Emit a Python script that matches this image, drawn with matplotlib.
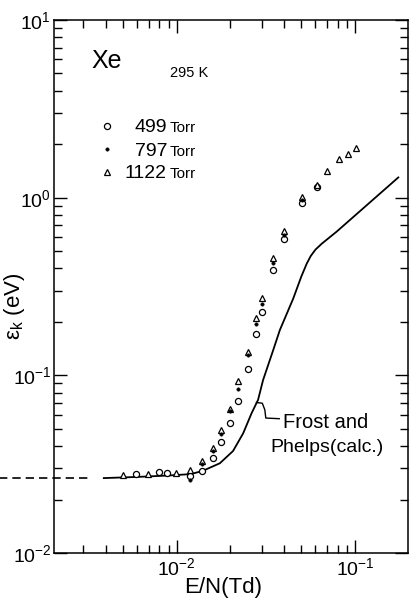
import matplotlib
matplotlib.use("Agg")
import matplotlib.pyplot as plt
from matplotlib import font_manager
from matplotlib.ticker import LogLocator, NullFormatter

names = {f.name for f in font_manager.fontManager.ttflist}
FAM = "Liberation Sans" if "Liberation Sans" in names else "DejaVu Sans"
plt.rcParams["font.family"] = [FAM, "DejaVu Sans"]
plt.rcParams["mathtext.fontset"] = "custom"
plt.rcParams["mathtext.rm"] = FAM
plt.rcParams["mathtext.it"] = FAM + ":italic"
plt.rcParams["mathtext.bf"] = FAM + ":bold"

# ---------------- data ----------------
# 499 Torr (open circles)
x499 = [0.00594, 0.0080, 0.00883, 0.0118, 0.0139, 0.0160, 0.0178, 0.0199, 0.0221,
        0.0251, 0.0278, 0.0299, 0.0348, 0.0399, 0.0504, 0.0610]
y499 = [0.0279, 0.0284, 0.0282, 0.0273, 0.0288, 0.0342, 0.0419, 0.0542, 0.0720,
        0.109, 0.171, 0.226, 0.390, 0.585, 0.930, 1.15]
# 797 Torr (dots)
x797 = [0.0118, 0.0139, 0.0160, 0.0178, 0.0199, 0.0221, 0.0251, 0.0278, 0.0299,
        0.0348, 0.0399, 0.0504]
y797 = [0.0259, 0.0317, 0.0375, 0.0470, 0.0626, 0.0834, 0.130, 0.194, 0.252,
        0.430, 0.620, 0.970]
# 1122 Torr (open triangles)
x1122 = [0.00499, 0.0069, 0.00987, 0.0118, 0.0139, 0.0160, 0.0178, 0.0199, 0.0221,
         0.0251, 0.0278, 0.0299, 0.0348, 0.0399, 0.0504, 0.0610, 0.0698, 0.0813,
         0.0910, 0.1014]
y1122 = [0.0275, 0.0278, 0.0282, 0.0292, 0.0331, 0.0390, 0.0490, 0.0650, 0.0930,
         0.135, 0.211, 0.272, 0.460, 0.650, 1.01, 1.18, 1.41, 1.64,
         1.76, 1.90]
# Frost and Phelps calculation
xcalc = [0.0039, 0.006, 0.009, 0.012, 0.014, 0.01746, 0.0207, 0.0236, 0.0263,
         0.0286, 0.0305, 0.0348, 0.0379, 0.045, 0.050, 0.0536, 0.0565, 0.060,
         0.0650, 0.0789, 0.111, 0.175]
ycalc = [0.0264, 0.0268, 0.0273, 0.0278, 0.0290, 0.0320, 0.0375, 0.0472, 0.0612,
         0.0728, 0.094, 0.139, 0.180, 0.270, 0.360, 0.425, 0.470, 0.510,
         0.550, 0.644, 0.870, 1.30]
# thermal energy (dashed)
xdash = [0.0010, 0.00324]
ydash = [0.0265, 0.0265]

legend_labels = ["499", "797", "1122"]
legend_unit = "Torr"

# ---------------- figure ----------------
fig = plt.figure(figsize=(4.09, 6.03), dpi=100)
ax = fig.add_axes([54/409, 1-553/603, (407.5-54)/409, (553-20)/603])
ax.set_xscale("log")
ax.set_yscale("log")
ax.set_xlim(0.00205, 0.197)
ax.set_ylim(0.01, 10)

lw = 1.3
ax.plot(xcalc, ycalc, color="black", lw=lw, zorder=2)
ax.plot(xdash, ydash, color="black", lw=1.2, dashes=(5, 3), clip_on=False, zorder=2)

ax.plot(x499, y499, ls="none", marker="o", ms=4.4, mfc="white", mec="black", mew=0.9, zorder=3)
ax.plot(x1122, y1122, ls="none", marker="^", ms=4.2, mfc="white", mec="black", mew=0.9, zorder=4)
ax.plot(x797, y797, ls="none", marker="o", ms=2.5, mfc="black", mec="black", mew=0.3, zorder=5)

# ticks
for axis in (ax.xaxis, ax.yaxis):
    axis.set_major_locator(LogLocator(base=10))
    axis.set_minor_locator(LogLocator(base=10, subs=range(2, 10)))
    axis.set_minor_formatter(NullFormatter())
ax.tick_params(which="both", direction="in", top=True, right=True, width=1.0)
ax.tick_params(which="major", length=9.5)
ax.tick_params(which="minor", length=6)
ax.tick_params(axis="x", which="major", labelsize=14, pad=3)
ax.tick_params(axis="y", which="major", labelsize=14, pad=2)
for s in ax.spines.values():
    s.set_linewidth(1.1)

ax.set_xlabel("E/N(Td)", fontsize=16)
ax.xaxis.set_label_coords(0.478, -0.045)
ax.xaxis.label.set_va("top")
ax.set_ylabel(r"ε$_{\mathrm{k}}$ (eV)", fontsize=16)
ax.yaxis.set_label_coords(-0.075, 0.463)

# texts
ax.text((91-54)/353.5, (553-68)/533, "Xe", fontsize=18, transform=ax.transAxes,
        ha="left", va="baseline")
ax.text((170-54)/353.5, (553-77)/533, "295 K", fontsize=10.5, transform=ax.transAxes,
        ha="left", va="baseline")

# legend
mk = [dict(marker="o", ms=4.4, mfc="white", mec="black", mew=0.9),
      dict(marker="o", ms=2.5, mfc="black", mec="black", mew=0.3),
      dict(marker="^", ms=4.2, mfc="white", mec="black", mew=0.9)]
rows_marker = [126, 149, 171.7]
rows_base = [131.7, 155.5, 178.3]
for lab, m, ym, yb in zip(legend_labels, mk, rows_marker, rows_base):
    ax.plot([(106.7-54)/353.5], [(553-ym)/533], ls="none", transform=ax.transAxes,
            clip_on=False, **m)
    ax.text((167-54)/353.5, (553-yb)/533, lab, fontsize=14, transform=ax.transAxes,
            ha="right", va="baseline")
    ax.text((170-54)/353.5, (553-yb)/533, legend_unit, fontsize=11, transform=ax.transAxes,
            ha="left", va="baseline")

# annotation
lead_x = [0.0280, 0.0302, 0.0312, 0.0316, 0.0376]
lead_y = [0.0703, 0.0697, 0.0640, 0.0575, 0.0570]
ax.plot(lead_x, lead_y, color="black", lw=1.0, zorder=2)
ax.text((283-54)/353.5, (553-428)/533, "Frost and", fontsize=14.5, transform=ax.transAxes,
        ha="left", va="baseline")
ax.text((270-54)/353.5, (553-452)/533, "Phelps(calc.)", fontsize=14, transform=ax.transAxes,
        ha="left", va="baseline")

fig.savefig("out.png", dpi=100)
